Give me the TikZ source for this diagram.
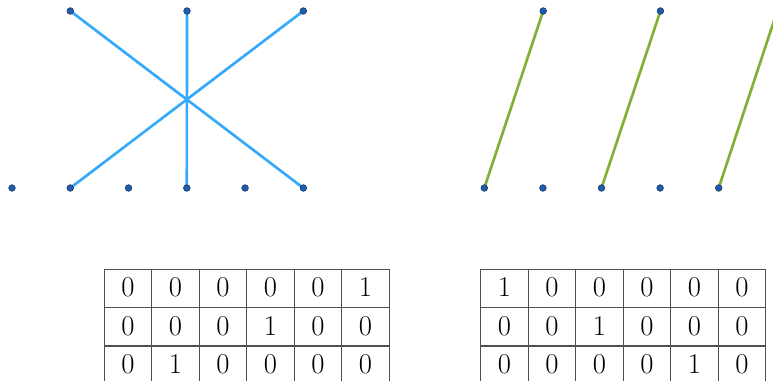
\documentclass[tikz,border=0pt]{standalone}
\usetikzlibrary{backgrounds}
\definecolor{dotblue}{HTML}{1C5DB4}
\definecolor{dotedge}{HTML}{23385E}
\definecolor{linkblue}{HTML}{36A9FA}
\definecolor{linkgreen}{HTML}{7DB235}
\definecolor{gridgray}{HTML}{505050}
\begin{document}
\begin{tikzpicture}[x=0.75pt,y=-0.75pt,
  dot/.style={circle,fill=dotblue,draw=dotedge,line width=0.45pt,inner sep=0pt,minimum size=5pt},
  bluelink/.style={draw=linkblue,line width=2pt},
  greenlink/.style={draw=linkgreen,line width=2pt},
  gridline/.style={draw=gridgray,line width=0.9pt,line cap=rect},
  digit/.style={font=\fontsize{21.5}{25}\selectfont,inner sep=0pt,anchor=base}]
\useasboundingbox (0,0) rectangle (773,381);
\clip (0,0) rectangle (773,381);
% left graph
\foreach \i in {0,...,5} \node[dot] (L\i) at ({12+58.27*\i},188) {};
\node[dot] (T1) at (70.3,11) {};
\node[dot] (T3) at (187,11) {};
\node[dot] (T5) at (303.3,11) {};
\begin{scope}[on background layer]
  \draw[bluelink] (T1.center) -- (L5.center);
  \draw[bluelink] (T3.center) -- (L3.center);
  \draw[bluelink] (T5.center) -- (L1.center);
\end{scope}
% right graph
\foreach \i in {0,...,4} \node[dot] (R\i) at ({484.3+58.6*\i},188) {};
\node[dot] (U1) at (543.2,11) {};
\node[dot] (U2) at (660.4,11) {};
\coordinate (U3) at (777.2,11);
\begin{scope}[on background layer]
  \draw[greenlink] (U1.center) -- (R0.center);
  \draw[greenlink] (U2.center) -- (R2.center);
  \draw[greenlink] (U3) -- (R4.center);
\end{scope}
% left table
\foreach \k in {0,...,6} \draw[gridline] ({104.3+47.5*\k},269.3) -- ++(0,120);
\foreach \k in {0,...,3} \draw[gridline] (104.3,{269.3+38.3*\k}) -- ++(285,0);
\foreach \r [count=\i from 0] in {{0,0,0,0,0,1},{0,0,0,1,0,0},{0,1,0,0,0,0}} {
  \foreach \v [count=\j from 0] in \r {
    \node[digit] (A-\i-\j) at ({104.3+47.5*(\j+0.5)},{269.3+38.3*\i+27.4}) {\v};
  }
}
% right table
\foreach \k in {0,...,6} \draw[gridline] ({480.7+47.5*\k},269.3) -- ++(0,120);
\foreach \k in {0,...,3} \draw[gridline] (480.7,{269.3+38.3*\k}) -- ++(285,0);
\foreach \r [count=\i from 0] in {{1,0,0,0,0,0},{0,0,1,0,0,0},{0,0,0,0,1,0}} {
  \foreach \v [count=\j from 0] in \r {
    \node[digit] (B-\i-\j) at ({480.7+47.5*(\j+0.5)},{269.3+38.3*\i+27.4}) {\v};
  }
}
\end{tikzpicture}
\end{document}
